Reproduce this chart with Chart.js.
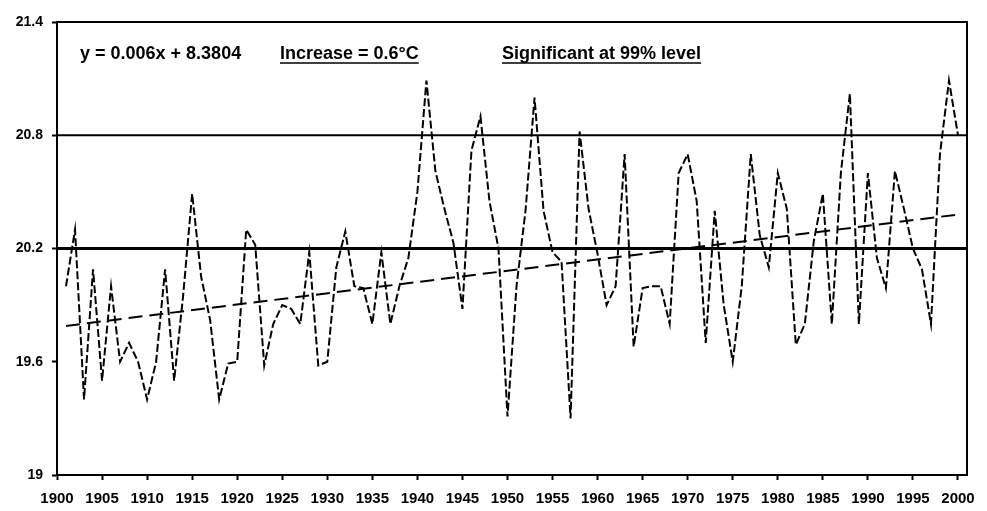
<!DOCTYPE html>
<html>
<head>
<meta charset="utf-8">
<script src="https://cdn.jsdelivr.net/npm/chart.js@4.4.1/dist/chart.umd.min.js"></script>
<style>
  html, body { margin: 0; padding: 0; background: #fff; }
</style>
</head>
<body>
<canvas id="temperature-chart" width="987" height="511"></canvas>
<script>
// annual mean temperature, 1901 - 2000
var startYear = 1901;
var temperature = [
    20.0, 20.3, 19.4, 20.09, 19.5, 20.0, 19.6, 19.7, 19.6, 19.4,
    19.6, 20.09, 19.5, 19.95, 20.49, 20.05, 19.82, 19.4, 19.59, 19.6,
    20.3, 20.22, 19.58, 19.8, 19.9, 19.88, 19.8, 20.18, 19.58, 19.6,
    20.1, 20.29, 20.0, 19.99, 19.8, 20.18, 19.8, 20.0, 20.15, 20.5,
    21.09, 20.61, 20.41, 20.23, 19.88, 20.72, 20.9, 20.45, 20.2, 19.31,
    20.0, 20.4, 21.0, 20.4, 20.18, 20.13, 19.3, 20.82, 20.41, 20.17,
    19.9, 20.0, 20.7, 19.68, 19.99, 20.0, 20.0, 19.8, 20.6, 20.7,
    20.45, 19.7, 20.4, 19.9, 19.6, 20.0, 20.7, 20.27, 20.1, 20.6,
    20.41, 19.69, 19.8, 20.24, 20.49, 19.8, 20.6, 21.02, 19.8, 20.6,
    20.15, 19.99, 20.61, 20.41, 20.2, 20.09, 19.8, 20.7, 21.09, 20.8
];

// linear trend, end points
var trendYears = [1901, 2000];
var trendValues = [19.79, 20.38];

// horizontal reference levels
var refLevels = [20.2, 20.8];
var refYears = [1900, 2001];

var xTicks = [1900, 1905, 1910, 1915, 1920, 1925, 1930, 1935, 1940, 1945, 1950,
              1955, 1960, 1965, 1970, 1975, 1980, 1985, 1990, 1995, 2000];
var yTicks = [19, 19.6, 20.2, 20.8, 21.4];

var notes = ['y = 0.006x + 8.3804', 'Increase = 0.6\u00b0C', 'Significant at 99% level'];

const tempChart = document.getElementById('temperature-chart');

Chart.defaults.color = '#000';
Chart.defaults.font.family = '"Liberation Sans", Arial, sans-serif';
Chart.defaults.font.weight = 'bold';

var tempPoints = temperature.map(function (v, i) { return { x: startYear + i, y: v }; });
var trendPoints = trendYears.map(function (yr, i) { return { x: yr, y: trendValues[i] }; });
function levelLine(level) {
    return refYears.map(function (yr) { return { x: yr, y: level }; });
}

// frame round the plot plus the three text notes
const frameAndNotes = {
    id: 'frameAndNotes',
    afterDatasetsDraw(chart) {
        const ctx = chart.ctx;
        const a = chart.chartArea;
        ctx.save();
        ctx.strokeStyle = '#000';
        ctx.lineWidth = 2;
        ctx.strokeRect(a.left, a.top, a.right - a.left, a.bottom - a.top);

        ctx.font = 'bold 18px "Liberation Sans", Arial, sans-serif';
        ctx.fillStyle = '#000';
        ctx.textBaseline = 'alphabetic';
        ctx.textAlign = 'left';
        var xs = [a.left + 23, a.left + 223, a.left + 445];
        var base = a.top + 37;
        notes.forEach(function (t, i) {
            ctx.fillText(t, xs[i], base);
            if (i > 0) {
                var w = ctx.measureText(t).width;
                ctx.lineWidth = 1.5;
                ctx.beginPath();
                ctx.moveTo(xs[i], base + 4);
                ctx.lineTo(xs[i] + w, base + 4);
                ctx.stroke();
            }
        });
        ctx.restore();
    }
};

var temperatureChart = new Chart(tempChart, {
    type: 'line',
    data: {
        datasets: [{
            label: 'Temperature',
            data: tempPoints,
            borderColor: '#000',
            borderWidth: 2,
            borderDash: [8, 3],
            pointRadius: 0,
            tension: 0
        }, {
            label: 'Trend',
            data: trendPoints,
            borderColor: '#000',
            borderWidth: 2,
            borderDash: [14, 7],
            pointRadius: 0
        }, {
            label: 'Level 20.2',
            data: levelLine(refLevels[0]),
            borderColor: '#000',
            borderWidth: 3,
            pointRadius: 0
        }, {
            label: 'Level 20.8',
            data: levelLine(refLevels[1]),
            borderColor: '#000',
            borderWidth: 2,
            pointRadius: 0
        }]
    },
    options: {
        responsive: false,
        animation: false,
        layout: {
            padding: { top: 22, right: 20, left: 0, bottom: 0 }
        },
        plugins: {
            legend: { display: false },
            tooltip: { enabled: false }
        },
        scales: {
            x: {
                type: 'linear',
                min: 1900,
                max: 2001,
                afterBuildTicks: function (scale) {
                    scale.ticks = xTicks.map(function (v) { return { value: v }; });
                },
                afterFit: function (scale) { scale.height = 36; },
                grid: {
                    drawOnChartArea: false,
                    color: '#000',
                    tickLength: 5,
                    tickWidth: 2
                },
                border: { color: '#000', width: 2 },
                ticks: {
                    padding: 10,
                    maxRotation: 0,
                    autoSkip: false,
                    font: { size: 15, weight: 'bold' },
                    callback: function (v) { return String(v); }
                }
            },
            y: {
                min: 19,
                max: 21.4,
                afterBuildTicks: function (scale) {
                    scale.ticks = yTicks.map(function (v) { return { value: v }; });
                },
                afterFit: function (scale) { scale.width = 57; },
                grid: {
                    drawOnChartArea: false,
                    color: '#000',
                    tickLength: 5,
                    tickWidth: 2
                },
                border: { color: '#000', width: 2 },
                ticks: {
                    padding: 9,
                    font: { size: 14, weight: 'bold' },
                    callback: function (v) { return String(v); }
                }
            }
        }
    },
    plugins: [frameAndNotes]
});
</script>
</body>
</html>
